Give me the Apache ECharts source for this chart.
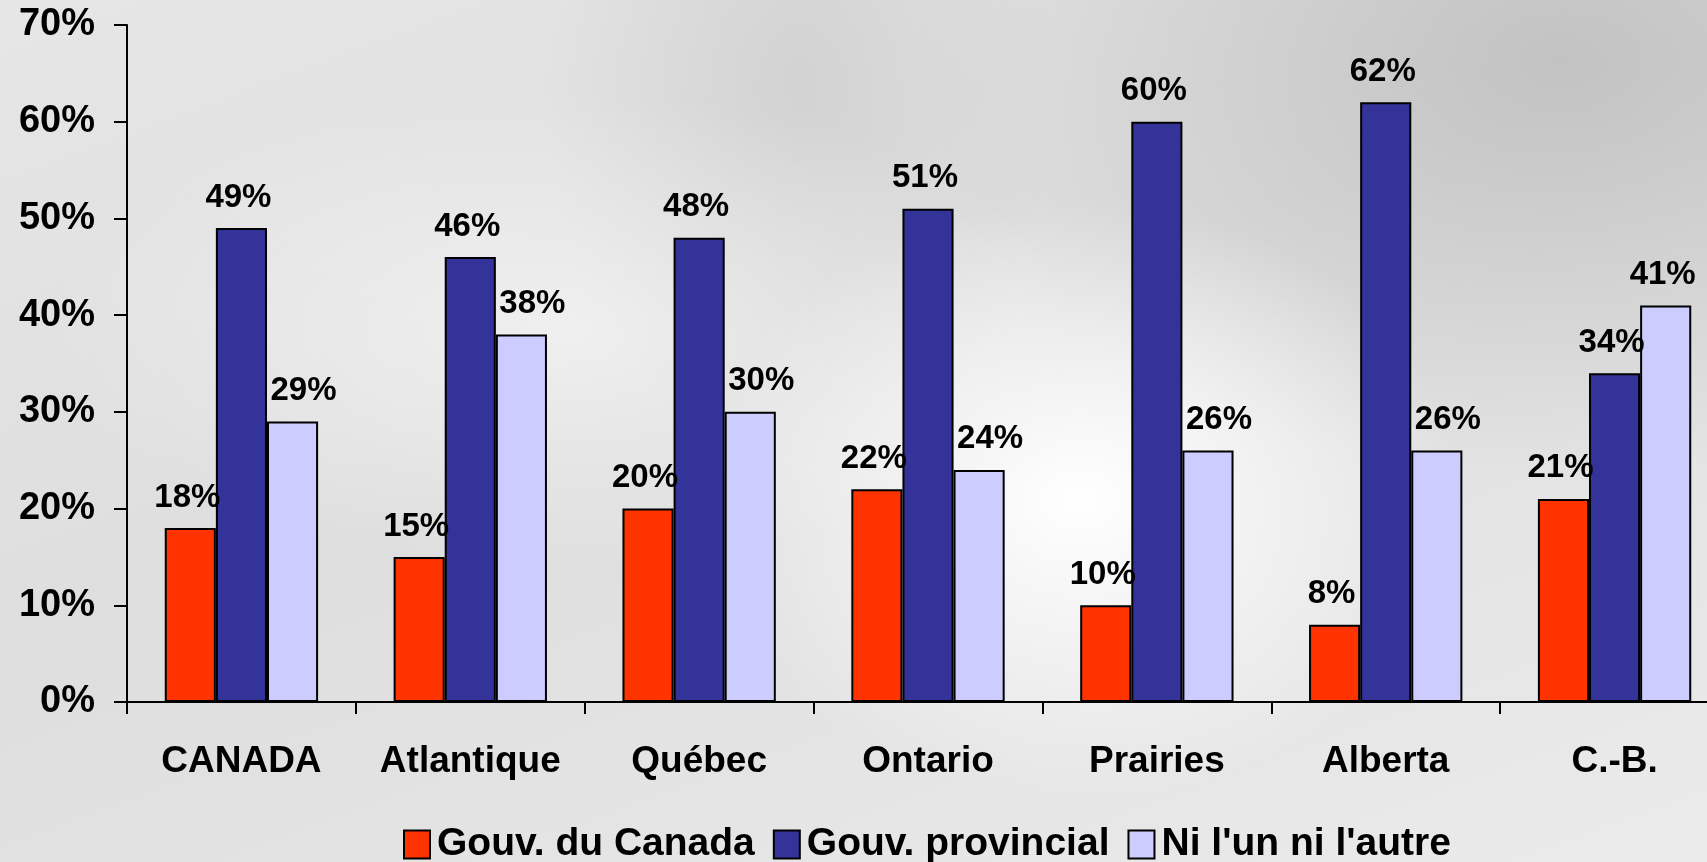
<!DOCTYPE html>
<html>
<head>
<meta charset="utf-8">
<script src="https://cdn.jsdelivr.net/npm/echarts@6/dist/echarts.min.js"></script>
<style>
html,body{margin:0;padding:0;overflow:hidden;width:1707px;height:862px;}
body{
	background:
		radial-gradient(ellipse 380px 300px at 1080px 500px, rgba(255,255,255,1), rgba(255,255,255,0) 100%),
		radial-gradient(ellipse 520px 240px at 560px 330px, rgba(255,255,255,0.5), rgba(255,255,255,0) 100%),
		radial-gradient(ellipse 650px 420px at 1560px 60px, rgba(185,185,185,0.75), rgba(185,185,185,0) 100%),
		radial-gradient(ellipse 260px 380px at 800px 80px, rgba(200,200,200,0.6), rgba(200,200,200,0) 100%),
		linear-gradient(160deg, #e6e6e6 0%, #dedede 45%, #ebebeb 100%);
}
#main{width:1729px;height:862px;}
</style>
</head>
<body>
<div id="main"></div>
<script>
// régions
var regions = ['CANADA', 'Atlantique', 'Québec', 'Ontario', 'Prairies', 'Alberta', 'C.-B.'];
// séries (%)
var gouvCanada = [18, 15, 20, 22, 10, 8, 21];
var gouvProvincial = [49, 46, 48, 51, 60, 62, 34];
var niUnNiAutre = [29, 38, 30, 24, 26, 26, 41];
var seriesNames = ['Gouv. du Canada', 'Gouv. provincial', "Ni l'un ni l'autre"];

var myChart = echarts.init(document.getElementById('main'));
var fontFam = '"Liberation Sans", Arial, sans-serif';

//libellés des barres
function barLabel(dx){
	return {
		show: true,
		position: 'top',
		distance: 14,
		offset: [dx, 0],
		formatter: '{c}%',
		color: '#000',
		fontFamily: fontFam,
		fontWeight: 'bold',
		fontSize: 33
	};
}

function makeSeries(name, data, color, dx){
	return {
		name: name,
		type: 'bar',
		data: data,
		barGap: '0%',
		barCategoryGap: '33%',
		itemStyle: {color: color, borderColor: '#000', borderWidth: 2},
		label: barLabel(dx)
	};
}

// le dernier libellé de la 3e série est décalé à gauche (bord du graphique)
var niData = niUnNiAutre.map(function(v, i){
	if(i == niUnNiAutre.length - 1){
		return {value: v, label: {offset: [-3, 0]}};
	}
	return v;
});

var options = {
	animation: false,
	backgroundColor: 'transparent',
	grid: {left: 127, right: 0, top: 25, bottom: 160},
	legend: {
		top: 820,
		left: 398,
		itemWidth: 26,
		itemHeight: 28,
		itemGap: 18,
		icon: 'rect',
		textStyle: {fontFamily: fontFam, fontWeight: 'bold', fontSize: 39, color: '#000', padding: [0, 0, 0, 2]},
		itemStyle: {borderColor: '#000', borderWidth: 2},
		data: seriesNames
	},
	xAxis: {
		type: 'category',
		data: regions,
		axisLine: {lineStyle: {color: '#000', width: 2}},
		axisTick: {show: true, length: 12, lineStyle: {color: '#000', width: 2}},
		axisLabel: {margin: 41, color: '#000', fontFamily: fontFam, fontWeight: 'bold', fontSize: 37, interval: 0}
	},
	yAxis: {
		type: 'value',
		min: 0,
		max: 70,
		interval: 10,
		axisLine: {show: true, lineStyle: {color: '#000', width: 2}},
		axisTick: {show: true, length: 13, lineStyle: {color: '#000', width: 2}},
		splitLine: {show: false},
		axisLabel: {formatter: '{value}%', margin: 32, color: '#000', fontFamily: fontFam, fontWeight: 'bold', fontSize: 38}
	},
	series: [
		makeSeries(seriesNames[0], gouvCanada, '#FF3300', -3),
		makeSeries(seriesNames[1], gouvProvincial, '#333399', -3),
		makeSeries(seriesNames[2], niData, '#CCCCFF', 11)
	]
};
myChart.setOption(options);
</script>
</body>
</html>
